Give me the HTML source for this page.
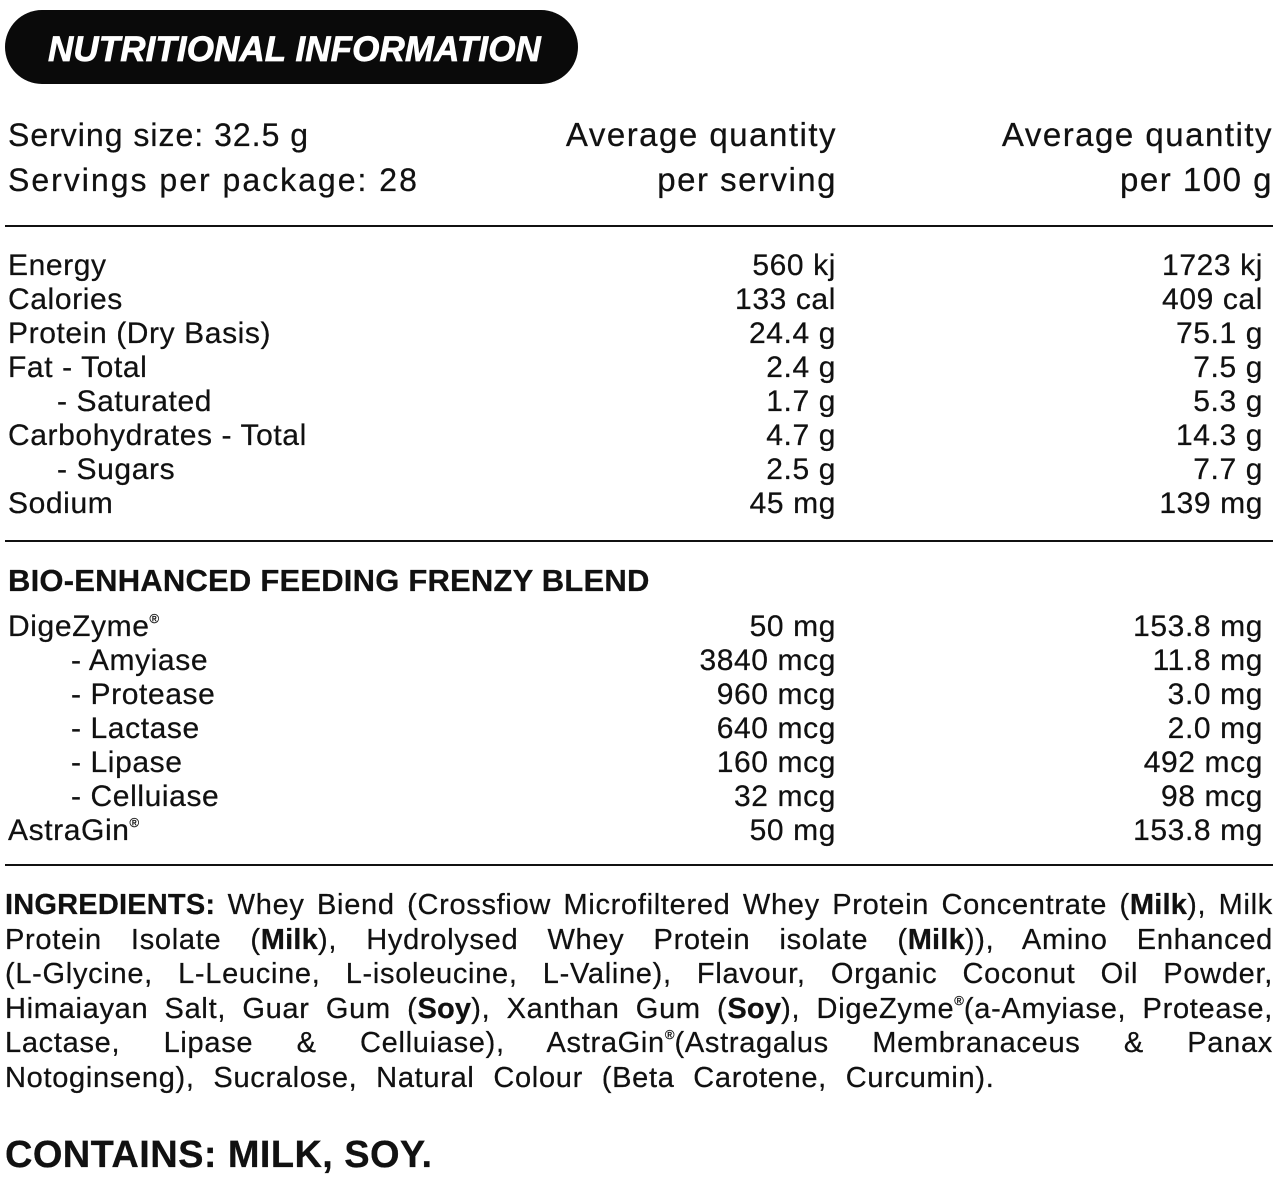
<!DOCTYPE html>
<html>
<head>
<meta charset="utf-8">
<style>
  html, body { margin:0; padding:0; background:#fff; }
  body { width:1280px; height:1180px; position:relative; overflow:hidden;
         font-family:"Liberation Sans", Arial, sans-serif; color:#111;
         -webkit-text-stroke:0.25px #111; }
  .abs { position:absolute; white-space:nowrap; }
  .pill { position:absolute; left:5px; top:10px; width:573px; height:74px;
          background:#0a0a0a; border-radius:37px; }
  .pilltxt { position:absolute; left:48px; top:32px; font-size:35px; line-height:35px;
             font-weight:bold; font-style:italic; color:#fff; letter-spacing:0.1px;
             -webkit-text-stroke:0.7px #fff; white-space:nowrap; }
  .hdr { font-size:32px; line-height:32px; letter-spacing:1px; }
  .hdr2 { font-size:33px; line-height:33px; letter-spacing:1.5px; }
  .hr { position:absolute; left:5px; width:1268px; height:2px; background:#111; }
  .col { position:absolute; font-size:30px; letter-spacing:0.6px; white-space:nowrap; }
  .col div { height:33.9px; line-height:33.9px; }
  .r { text-align:right; }
  .ind1 { padding-left:49px; }
  .ind2 { padding-left:63px; }
  .reg { font-size:13px; line-height:0; vertical-align:13px; letter-spacing:0; }
  .blend { font-size:31px; line-height:31px; font-weight:bold; letter-spacing:0.2px; }
  .ing { position:absolute; left:5px; top:888px; width:1268px; font-size:29px;
         letter-spacing:0.7px; }
  .ing div { height:34.5px; line-height:34.5px; white-space:nowrap; text-align:justify; text-align-last:justify; }
  .ing div.last { text-align:left; text-align-last:left; word-spacing:10px; }
  .ing b { font-weight:bold; letter-spacing:0.2px; }
  .contains { font-size:38px; line-height:38px; font-weight:bold; letter-spacing:0.4px; }
</style>
</head>
<body>

<div class="pill"></div>
<div class="pilltxt">NUTRITIONAL INFORMATION</div>

<!-- Header -->
<div class="abs hdr" style="left:8px; top:119px;">Serving size: 32.5 g</div>
<div class="abs hdr" style="left:8px; top:163.5px; letter-spacing:2px;">Servings per package: 28</div>
<div class="abs hdr2" style="right:443px; top:118.4px; text-align:right;">Average quantity</div>
<div class="abs hdr2" style="right:443px; top:162.9px; text-align:right;">per serving</div>
<div class="abs hdr2" style="right:7px; top:118.4px; text-align:right;">Average quantity</div>
<div class="abs hdr2" style="right:7px; top:162.9px; text-align:right;">per 100 g</div>

<div class="hr" style="top:225px;"></div>

<!-- Nutrition rows -->
<div class="col" style="left:8px; top:249.4px;">
  <div>Energy</div>
  <div>Calories</div>
  <div>Protein (Dry Basis)</div>
  <div>Fat - Total</div>
  <div class="ind1">- Saturated</div>
  <div>Carbohydrates - Total</div>
  <div class="ind1">- Sugars</div>
  <div>Sodium</div>
</div>
<div class="col r" style="right:444px; top:249.4px;">
  <div>560 kj</div>
  <div>133 cal</div>
  <div>24.4 g</div>
  <div>2.4 g</div>
  <div>1.7 g</div>
  <div>4.7 g</div>
  <div>2.5 g</div>
  <div>45 mg</div>
</div>
<div class="col r" style="right:17px; top:249.4px;">
  <div>1723 kj</div>
  <div>409 cal</div>
  <div>75.1 g</div>
  <div>7.5 g</div>
  <div>5.3 g</div>
  <div>14.3 g</div>
  <div>7.7 g</div>
  <div>139 mg</div>
</div>

<div class="hr" style="top:540px;"></div>

<!-- Blend -->
<div class="abs blend" style="left:8px; top:565.4px;">BIO-ENHANCED FEEDING FRENZY BLEND</div>

<div class="col" style="left:8px; top:610.4px;">
  <div>DigeZyme<span class="reg">®</span></div>
  <div class="ind2">- Amyiase</div>
  <div class="ind2">- Protease</div>
  <div class="ind2">- Lactase</div>
  <div class="ind2">- Lipase</div>
  <div class="ind2">- Celluiase</div>
  <div>AstraGin<span class="reg">®</span></div>
</div>
<div class="col r" style="right:444px; top:610.4px;">
  <div>50 mg</div>
  <div>3840 mcg</div>
  <div>960 mcg</div>
  <div>640 mcg</div>
  <div>160 mcg</div>
  <div>32 mcg</div>
  <div>50 mg</div>
</div>
<div class="col r" style="right:17px; top:610.4px;">
  <div>153.8 mg</div>
  <div>11.8 mg</div>
  <div>3.0 mg</div>
  <div>2.0 mg</div>
  <div>492 mcg</div>
  <div>98 mcg</div>
  <div>153.8 mg</div>
</div>

<div class="hr" style="top:864px;"></div>

<!-- Ingredients -->
<div class="ing">
  <div><b>INGREDIENTS:</b> Whey Biend (Crossfiow Microfiltered Whey Protein Concentrate (<b>Milk</b>), Milk</div>
  <div>Protein Isolate (<b>Milk</b>), Hydrolysed Whey Protein isolate (<b>Milk</b>)), Amino Enhanced</div>
  <div>(L-Glycine, L-Leucine, L-isoleucine, L-Valine), Flavour, Organic Coconut Oil Powder,</div>
  <div>Himaiayan Salt, Guar Gum (<b>Soy</b>), Xanthan Gum (<b>Soy</b>), DigeZyme<span class="reg">®</span>(a-Amyiase, Protease,</div>
  <div>Lactase, Lipase &amp; Celluiase), AstraGin<span class="reg">®</span>(Astragalus Membranaceus &amp; Panax</div>
  <div class="last">Notoginseng), Sucralose, Natural Colour (Beta Carotene, Curcumin).</div>
</div>

<div class="abs contains" style="left:5px; top:1136.4px;">CONTAINS: MILK, SOY.</div>

</body>
</html>
